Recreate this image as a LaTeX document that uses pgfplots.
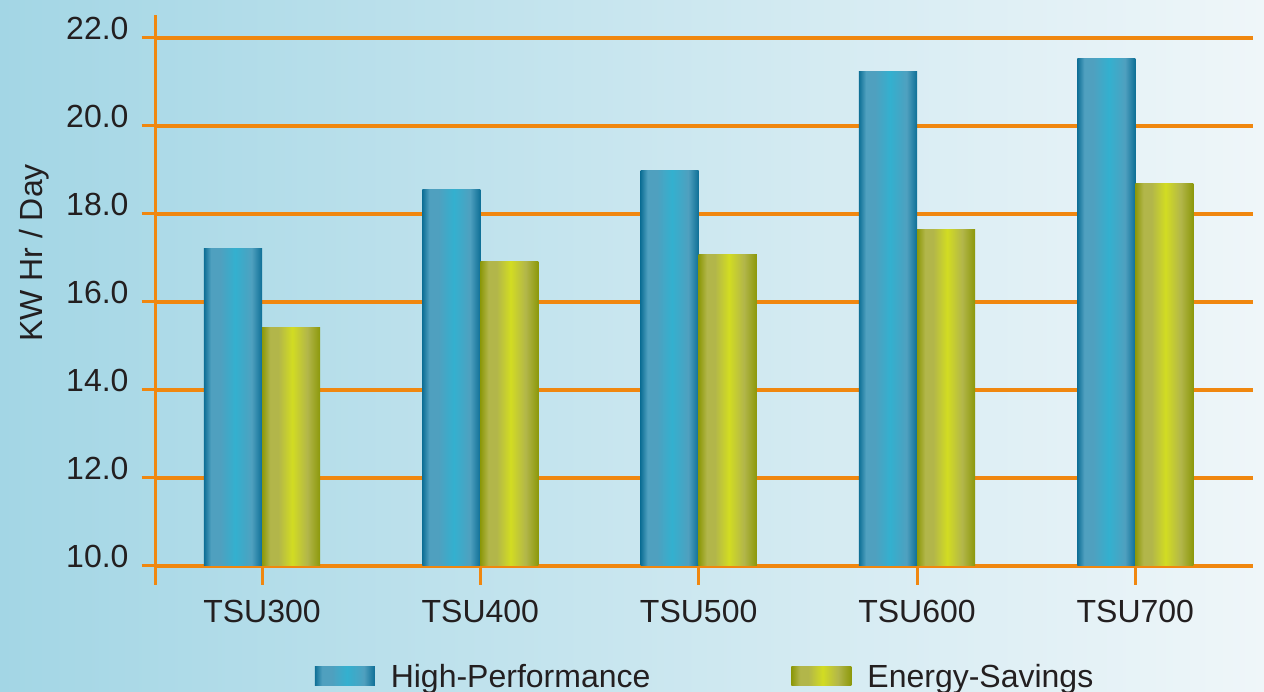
\documentclass[border=0pt]{standalone}
\usepackage{fontspec}
\setmainfont{Liberation Sans}
\usepackage{pgfplots}
\pgfplotsset{compat=1.18}

\definecolor{gridorange}{HTML}{F0870F}
\definecolor{txt}{HTML}{231F20}
\definecolor{bgL}{HTML}{A3D6E5}
\definecolor{bgM}{HTML}{CDE8EF}
\definecolor{bgR}{HTML}{EFF6F9}
\definecolor{hpD}{HTML}{0E6F96}
\definecolor{hpM}{HTML}{4FA0BF}
\definecolor{hpB}{HTML}{33B0CF}
\definecolor{esD}{HTML}{8C980A}
\definecolor{esM}{HTML}{B2B64A}
\definecolor{esB}{HTML}{D2DC22}

\pgfdeclarehorizontalshading{hpbar}{100bp}{color(0bp)=(hpD); color(25bp)=(hpD);
  color(31bp)=(hpM); color(39bp)=(hpM); color(52bp)=(hpB); color(66bp)=(hpM);
  color(75bp)=(hpD); color(100bp)=(hpD)}
\pgfdeclarehorizontalshading{esbar}{100bp}{color(0bp)=(esD); color(25bp)=(esD);
  color(32bp)=(esM); color(39bp)=(esM); color(51bp)=(esB); color(64bp)=(esM);
  color(75bp)=(esD); color(100bp)=(esD)}

\newcommand\chartfont{\fontsize{32}{38}\selectfont}

% one bar per \addplot so that every bar gets its own shading
\pgfplotsset{
  hp/.style={ybar, bar width=0.266, bar shift=-0.133, draw=none,
    shade, shading=hpbar, forget plot},
  es/.style={ybar, bar width=0.266, bar shift=0.133, draw=none,
    shade, shading=esbar, forget plot},
}

\begin{document}
\begin{tikzpicture}
\path[use as bounding box] (0,0) rectangle (1264pt,692pt);
\shade[left color=bgL, middle color=bgM, right color=bgR] (0,0) rectangle (1264pt,692pt);
\begin{axis}[
    at={(155.7pt,126pt)}, anchor=south west,
    scale only axis, width=1097pt, height=528pt,
    xmin=-0.487, xmax=4.538,
    ymin=10, ymax=22,
    clip mode=individual,
    xtick={0,1,2,3,4},
    xticklabels={TSU300,TSU400,TSU500,TSU600,TSU700},
    ytick={10,12,14,16,18,20,22},
    yticklabels={10.0,12.0,14.0,16.0,18.0,20.0,22.0},
    xtick pos=bottom, ytick pos=left,
    axis line style={draw=none},
    ymajorgrids,
    grid style={gridorange, line width=3.2pt},
    tick align=outside,
    major tick length=19pt,
    tick style={gridorange, line width=3pt},
    ytick style={xshift=5pt},
    tick label style={font=\chartfont, text=txt, inner sep=0pt},
    xticklabel style={anchor=north, yshift=-15pt},
    yticklabel style={anchor=base east, yshift=-2pt, xshift=-8pt},
    legend columns=2,
    legend style={at={(0.1448,-0.2097)}, anchor=west, draw=none, fill=none,
        inner sep=0pt, font=\chartfont, text=txt,
        nodes={inner sep=0pt},
        /tikz/every odd column/.append style={column sep=16pt},
        /tikz/every even column/.append style={column sep=141pt}},
]
% High-Performance
\addplot[hp] coordinates {(0,17.22)};
\addplot[hp] coordinates {(1,18.55)};
\addplot[hp] coordinates {(2,18.98)};
\addplot[hp] coordinates {(3,21.23)};
\addplot[hp] coordinates {(4,21.54)};
% Energy-Savings
\addplot[es] coordinates {(0,15.42)};
\addplot[es] coordinates {(1,16.93)};
\addplot[es] coordinates {(2,17.09)};
\addplot[es] coordinates {(3,17.65)};
\addplot[es] coordinates {(4,18.70)};

\addlegendimage{legend image code/.code={\shade[draw=none, shading=hpbar] (0pt,-8.35pt) rectangle (60pt,10.65pt);}}
\addlegendentry{High-Performance}
\addlegendimage{legend image code/.code={\shade[draw=none, shading=esbar] (0pt,-8.35pt) rectangle (60pt,10.65pt);}}
\addlegendentry{Energy-Savings}

\draw[gridorange, line width=3pt] (axis cs:-0.487,9.57) -- (axis cs:-0.487,22.52);
\end{axis}
\node[rotate=90, anchor=base, font=\chartfont, text=txt] at (42pt,439pt) {KW Hr / Day};
\end{tikzpicture}
\end{document}
